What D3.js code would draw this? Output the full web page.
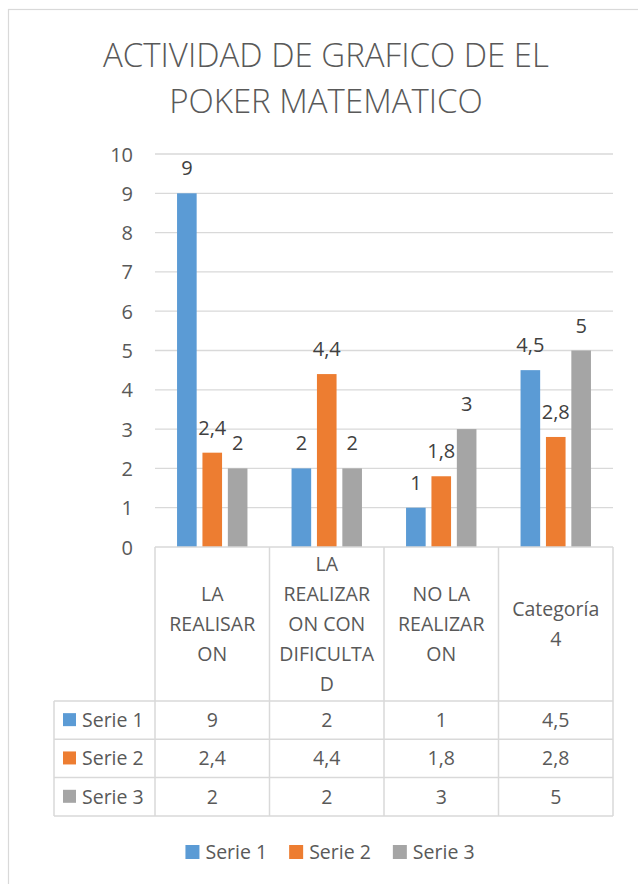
<!DOCTYPE html>
<html>
<head>
<meta charset="utf-8">
<script src="https://cdn.jsdelivr.net/npm/d3@7"></script>
<style>
  html, body { margin: 0; padding: 0; background: #fff; }
  svg { display: block; font-family: "Open Sans", "Noto Sans", sans-serif; }
</style>
</head>
<body>
<svg id="chart" width="638" height="884"></svg>
<script>
// ---- data ----
const titleLines = ["ACTIVIDAD DE GRAFICO DE EL", "POKER MATEMATICO"];
const categories = ["LA REALISARON", "LA REALIZARON CON DIFICULTAD", "NO LA REALIZARON", "Categoría 4"];
const categoryLines = [
  ["LA", "REALISAR", "ON"],
  ["LA", "REALIZAR", "ON CON", "DIFICULTA", "D"],
  ["NO LA", "REALIZAR", "ON"],
  ["Categoría", "4"]
];
const seriesNames = ["Serie 1", "Serie 2", "Serie 3"];
const serie1 = [9, 2, 1, 4.5];
const serie2 = [2.4, 4.4, 1.8, 2.8];
const serie3 = [2, 2, 3, 5];
const seriesValues = [serie1, serie2, serie3];
const seriesColors = ["#5B9BD5", "#ED7D31", "#A5A5A5"];
const yTicks = [0, 1, 2, 3, 4, 5, 6, 7, 8, 9, 10];

// ---- setup ----
const svg = d3.select("#chart");
const textColor = "#595959";
const lineColor = "#D9D9D9";
const locale = d3.formatLocale({decimal: ",", thousands: ".", grouping: [3], currency: ["", "€"]});
const fmt = v => locale.format(",")(v);

const plotLeft = 155, plotRight = 613, plotTop = 154, plotBottom = 547;
const x = d3.scaleBand().domain(categories).range([plotLeft, plotRight]).paddingInner(0).paddingOuter(0);
const xs = d3.scaleBand().domain(seriesNames).range([0, x.bandwidth()]).paddingInner(0.228).paddingOuter(0.868);
const y = d3.scaleLinear().domain([0, 10]).range([plotBottom, plotTop]);

// outer chart border
svg.append("rect").attr("x", 8.5).attr("y", 9.5).attr("width", 700).attr("height", 900)
  .attr("fill", "#fff").attr("stroke", lineColor).attr("stroke-width", 1.2);

// title
svg.append("g").selectAll("text").data(titleLines).join("text")
  .attr("x", 326).attr("y", (d, i) => 67 + i * 46)
  .attr("text-anchor", "middle").attr("font-size", 33).attr("font-weight", 300)
  .attr("fill", textColor).text(d => d);

// gridlines
svg.append("g").selectAll("line").data(yTicks.filter(t => t > 0)).join("line")
  .attr("x1", plotLeft).attr("x2", plotRight)
  .attr("y1", d => y(d)).attr("y2", d => y(d))
  .attr("stroke", lineColor).attr("stroke-width", 1.3);

// y axis labels
const yAxis = d3.axisLeft(y).tickValues(yTicks).tickSize(0).tickPadding(0).tickFormat(fmt);
const ya = svg.append("g").attr("transform", "translate(133,0)").call(yAxis);
ya.select(".domain").remove();
ya.selectAll("text").attr("font-family", "Open Sans").attr("font-size", 20)
  .attr("fill", textColor).attr("dy", null).attr("y", 7).attr("x", 0);

// bars
const barData = [];
seriesValues.forEach((vals, si) => vals.forEach((v, ci) => barData.push({s: seriesNames[si], si, c: categories[ci], v})));
svg.append("g").selectAll("rect").data(barData).join("rect")
  .attr("x", d => x(d.c) + xs(d.s)).attr("width", xs.bandwidth())
  .attr("y", d => y(d.v)).attr("height", d => y(0) - y(d.v))
  .attr("fill", d => seriesColors[d.si]);

// data labels
svg.append("g").selectAll("text").data(barData).join("text")
  .attr("x", d => x(d.c) + xs(d.s) + xs.bandwidth() / 2)
  .attr("y", d => y(d.v) - 18)
  .attr("text-anchor", "middle").attr("font-size", 20).attr("fill", "#404040")
  .text(d => fmt(d.v));

// ---- data table ----
const tableLeft = 54;
const rowTops = [701, 739.3, 777.6, 816];
const catTop = plotBottom;
const tg = svg.append("g").attr("stroke", lineColor).attr("stroke-width", 1.5).attr("fill", "none");
// top line (axis)
tg.append("line").attr("x1", plotLeft).attr("x2", plotRight).attr("y1", catTop).attr("y2", catTop);
// category boundaries
const bounds = categories.map(c => x(c)).concat([plotRight]);
tg.selectAll("line.v").data(bounds).join("line").attr("class", "v")
  .attr("x1", d => d).attr("x2", d => d).attr("y1", catTop).attr("y2", rowTops[3]);
// left col
tg.append("line").attr("x1", tableLeft).attr("x2", tableLeft).attr("y1", rowTops[0]).attr("y2", rowTops[3]);
// horizontal row lines
tg.selectAll("line.h").data(rowTops).join("line").attr("class", "h")
  .attr("x1", tableLeft).attr("x2", plotRight).attr("y1", d => d).attr("y2", d => d);

// category labels
const catCenter = (catTop + rowTops[0]) / 2;
categories.forEach((c, ci) => {
  const lines = categoryLines[ci];
  svg.append("g").selectAll("text").data(lines).join("text")
    .attr("x", x(c) + x.bandwidth() / 2)
    .attr("y", (d, i) => catCenter - (lines.length - 1) * 15 + i * 30 + 7)
    .attr("text-anchor", "middle").attr("font-size", 19.5).attr("fill", textColor)
    .text(d => d);
});

// row headers and values
seriesNames.forEach((s, si) => {
  const cy = (rowTops[si] + rowTops[si + 1]) / 2;
  svg.append("rect").attr("x", 63).attr("y", cy - 7).attr("width", 13).attr("height", 13).attr("fill", seriesColors[si]);
  svg.append("text").attr("x", 82).attr("y", cy + 7).attr("font-size", 19.5).attr("fill", textColor).text(s);
  svg.append("g").selectAll("text").data(seriesValues[si]).join("text")
    .attr("x", (d, ci) => x(categories[ci]) + x.bandwidth() / 2)
    .attr("y", cy + 7).attr("text-anchor", "middle").attr("font-size", 19.5).attr("fill", textColor)
    .text(d => fmt(d));
});

// legend
const legend = svg.append("g");
const items = legend.selectAll("g").data(seriesNames).join("g");
items.append("rect").attr("width", 14).attr("height", 14).attr("y", 845).attr("fill", (d, i) => seriesColors[i]);
items.append("text").attr("x", 20).attr("y", 859).attr("font-size", 19.5).attr("fill", textColor).text(d => d);
let widths = [];
items.each(function () { widths.push(20 + d3.select(this).select("text").node().getComputedTextLength()); });
const gap = 22;
const total = d3.sum(widths) + gap * (widths.length - 1);
let cx = 330 - total / 2;
items.each(function (d, i) { d3.select(this).attr("transform", `translate(${cx},0)`); cx += widths[i] + gap; });
</script>
</body>
</html>
